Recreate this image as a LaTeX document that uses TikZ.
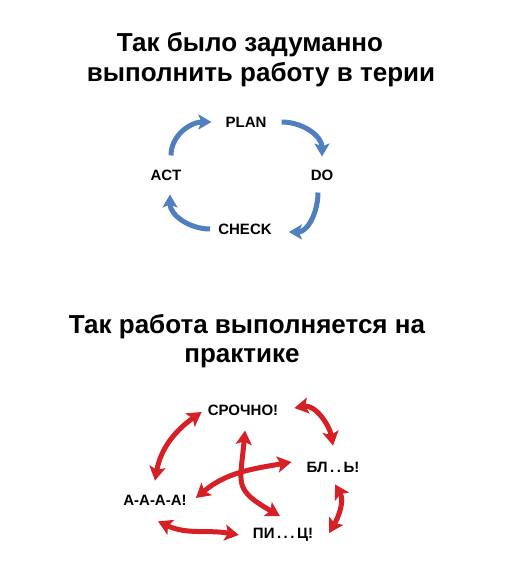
\documentclass[tikz,border=0pt]{standalone}
\usepackage{fontspec}
\setmainfont{Liberation Sans}
\usetikzlibrary{arrows.meta}

\definecolor{pdcablue}{RGB}{79,127,190}
\definecolor{chaosred}{RGB}{214,32,38}

\begin{document}
\begin{tikzpicture}[x=1pt,y=1pt,
		title/.style={font=\fontsize{26}{30}\selectfont\bfseries, anchor=base, inner sep=0pt},
		lbl/.style={font=\fontsize{15}{17}\selectfont\bfseries, inner sep=3pt},
		bluearr/.style={draw=pdcablue, line width=5pt, -{Stealth[width=15pt,length=13pt,inset=3pt]}},
		redarr/.style={draw=chaosred, line width=5pt, {Stealth[width=16pt,length=14pt,inset=3pt]}-{Stealth[width=16pt,length=14pt,inset=3pt]}}]
		
		% page
		\fill[white] (0,0) rectangle (517,-583);
		\useasboundingbox (0,0) rectangle (517,-583);
		
		% titles
		\node[title] (theory1) at (250,-52) {Так было задуманно};
		\node[title] (theory2) at (261,-82) {выполнить работу в терии};
		\node[title] (practice1) at (247,-333) {Так работа выполняется на};
		\node[title] (practice2) at (242,-362) {практике};
		
		% PDCA cycle
		\node[lbl] (plan) at (246,-122) {PLAN};
		\node[lbl] (do) at (322,-175) {DO};
		\node[lbl] (check) at (245,-229) {CHECK};
		\node[lbl] (act) at (166,-175) {ACT};
		
		\draw[bluearr] ([xshift=5pt,yshift=11pt]act.north) to[out=90,in=180] ([xshift=-11pt]plan.west);
		\draw[bluearr] ([xshift=12pt]plan.east) to[out=0,in=90] ([yshift=10pt]do.north);
		\draw[bluearr] ([xshift=-4pt,yshift=-9pt]do.south) to[out=-90,in=0] ([xshift=14pt,yshift=-3pt]check.east);
		\draw[bluearr] ([xshift=-5pt]check.west) to[out=180,in=-90] ([xshift=4pt,yshift=-11pt]act.south);
		
		% chaos in practice
		\node[lbl] (srochno) at (243,-410) {СРОЧНО!};
		\node[lbl] (bl) at (333,-467) {БЛ\,.\,.\,Ь!};
		\node[lbl] (aaaa) at (155,-500) {А-А-А-А!};
		\node[lbl] (pits) at (283,-535) {ПИ\,.\,.\,.\,Ц!};
		
		\draw[redarr] ([xshift=-3pt,yshift=-2pt]srochno.west) to[out=215,in=80] ([yshift=11pt]aaaa.north);
		\draw[redarr] ([xshift=13pt,yshift=2pt]srochno.east) to[out=10,in=100] ([yshift=13pt]bl.north);
		\draw[redarr] ([xshift=2pt,yshift=-9pt]bl.south) to[out=-60,in=60] ([xshift=13pt,yshift=2pt]pits.east);
		\draw[redarr] ([xshift=3pt,yshift=-13pt]aaaa.south) to[out=-25,in=170] ([xshift=-11pt]pits.west);
		\draw[redarr] ([xshift=2pt,yshift=-12pt]srochno.south) to[out=-95,in=150,looseness=1.5] ([xshift=-3pt,yshift=9pt]pits.north);
		\draw[redarr] ([xshift=6pt,yshift=2pt]aaaa.east) to[out=40,in=190] ([xshift=-12pt,yshift=5pt]bl.west);
	\end{tikzpicture}
\end{document}
